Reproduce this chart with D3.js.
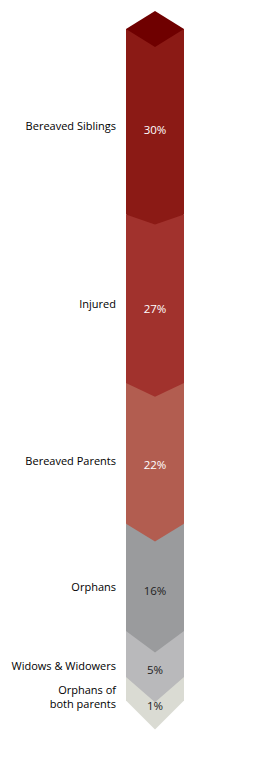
<!DOCTYPE html>
<html>
<head>
<meta charset="utf-8">
<script src="https://cdn.jsdelivr.net/npm/d3@7"></script>
<style>
  body { margin: 0; background: #fff; }
  #chart { width: 262px; height: 764px; }
  text { font-family: "Open Sans", "Noto Sans", sans-serif; }
</style>
</head>
<body>
<div id="chart"></div>
<script>
// Victims by category – stacked chevron column

const categories = [
  ["Bereaved Siblings"],
  ["Injured"],
  ["Bereaved Parents"],
  ["Orphans"],
  ["Widows & Widowers"],
  ["Orphans of", "both parents"]
];
const shares = [30, 27, 22, 16, 5, 1];
const segColors = ["#8b1a15", "#a1322d", "#b25d50", "#9a9b9d", "#b9b9bb", "#dadbd3"];
const valueColors = ["#fff", "#fff", "#fff", "#222", "#222", "#222"];
const capColor = "#6f0000";

function renderColumn(containerId) {
  const container = d3.select(`#${containerId}`);
  container.selectAll("*").remove();

  const width = 262, height = 764;
  const svg = container.append("svg")
    .attr("width", width)
    .attr("height", height);

  const x0 = 126, x1 = 184, cx = (x0 + x1) / 2;
  const top = 29;

  // segment height: fixed minimum plus a share-proportional part
  const h = d3.scaleLinear().domain([0, 30]).range([18, 185.4]);
  // chevron depth grows toward the bottom
  const depth = d3.scaleLinear().domain([0, shares.length - 1]).range([10, 29]);

  let y = top;
  const segs = shares.map((v, i) => {
    const s = { v, i, yTop: y, yBot: y + h(v), d: depth(i) };
    y = s.yBot;
    return s;
  });

  // draw bottom first so each chevron point overlaps the one below
  svg.append("g").selectAll("path")
    .data(segs.slice().reverse())
    .join("path")
    .attr("d", s => `M${x0},${s.yTop}L${x1},${s.yTop}L${x1},${s.yBot}L${cx},${s.yBot + s.d}L${x0},${s.yBot}Z`)
    .attr("fill", s => segColors[s.i]);

  // cap
  const capD = 18;
  svg.append("path")
    .attr("d", `M${cx},${top - capD}L${x1},${top}L${cx},${top + capD}L${x0},${top}Z`)
    .attr("fill", capColor);

  // value labels centred in the visible part of each segment
  const valueY = s => (s.yTop + s.yBot + s.d) / 2 + 3;

  svg.append("g").selectAll("text")
    .data(segs)
    .join("text")
    .attr("x", cx)
    .attr("y", valueY)
    .attr("dy", "0.35em")
    .attr("text-anchor", "middle")
    .attr("font-size", 11.5)
    .attr("fill", s => valueColors[s.i])
    .text(s => `${s.v}%`);

  // category labels (one text per line)
  const lineH = 14;
  const lines = segs.flatMap(s => {
    const ls = categories[s.i];
    const yb = valueY(s) - 4 - (ls.length - 1) * lineH + (ls.length > 1 ? 2 : 0);
    return ls.map((t, k) => ({ t, y: yb + k * lineH }));
  });

  svg.append("g").selectAll("text")
    .data(lines)
    .join("text")
    .attr("x", 116)
    .attr("y", d => d.y)
    .attr("dy", "0.35em")
    .attr("text-anchor", "end")
    .attr("font-size", 11)
    .attr("fill", "#000")
    .text(d => d.t);
}

document.addEventListener("DOMContentLoaded", () => renderColumn("chart"));
</script>
</body>
</html>
